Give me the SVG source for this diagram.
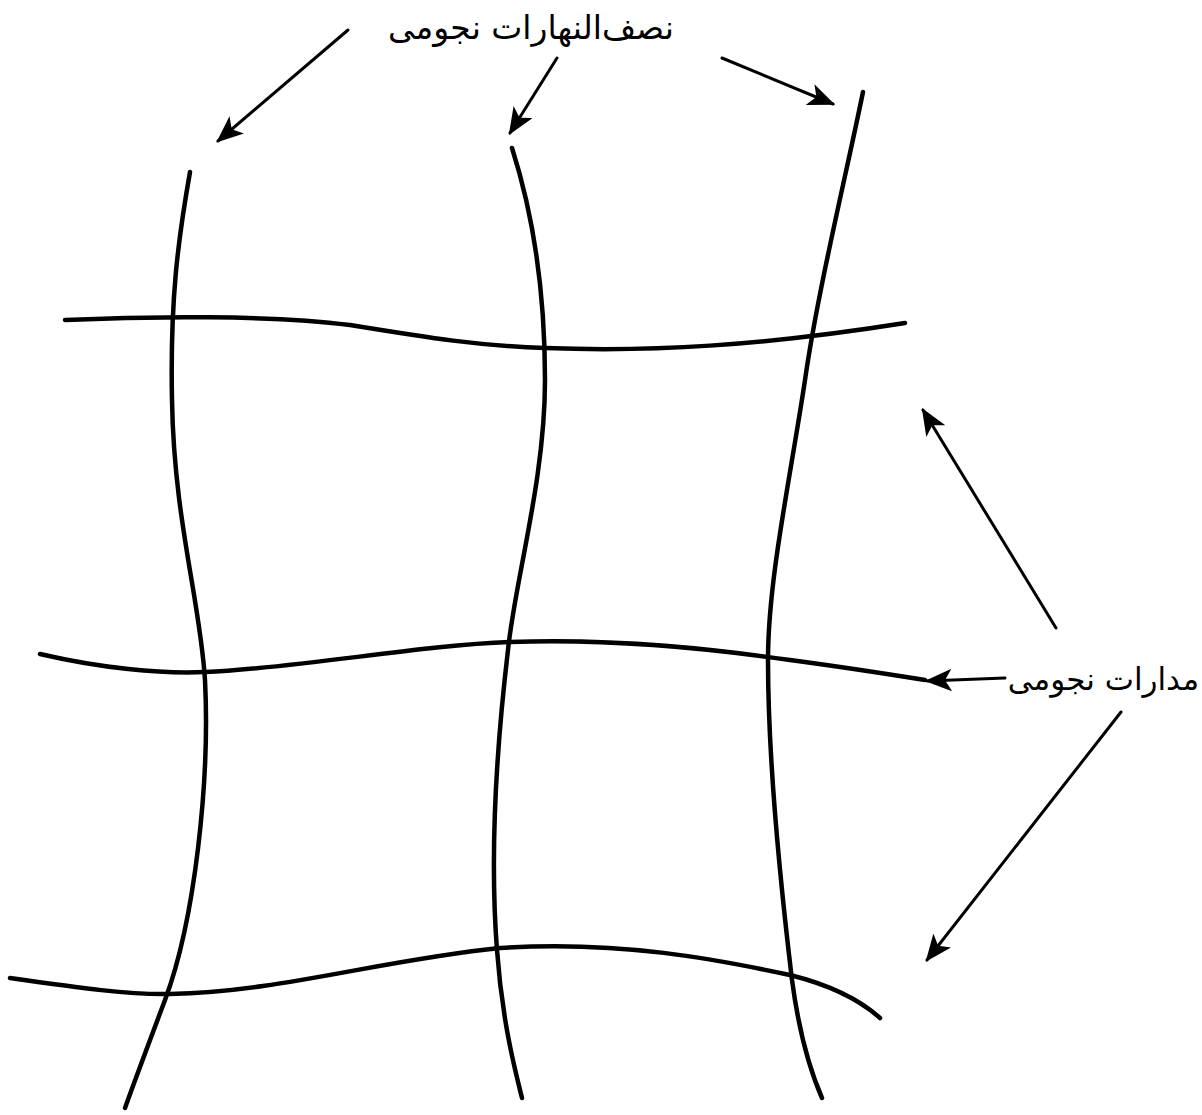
<svg xmlns="http://www.w3.org/2000/svg" width="1202" height="1115" viewBox="0 0 1202 1115">
<style>
.curve{fill:none;stroke:#000;stroke-width:4.5;stroke-linecap:round}
.arr{fill:none;stroke:#000;stroke-width:3;stroke-linecap:round;marker-end:url(#ah)}
.lbl{font-family:"DejaVu Sans",sans-serif;font-size:33px;fill:#000}
</style>
<defs>
<marker id="ah" viewBox="0 0 12 10" refX="11" refY="5" markerWidth="9" markerHeight="7.5" orient="auto" markerUnits="strokeWidth">
<path d="M0,0 L12,5 L0,10 L3,5 Z" fill="#000"/>
</marker>
</defs>
<rect width="1202" height="1115" fill="#fff"/>
<g id="meridian-1"><path class="curve" d="M190,172 C178,240 170,300 172,400 C174,520 200,600 205,680 C210,780 195,920 165,1000 C150,1040 135,1080 125,1108"/></g>
<g id="meridian-2"><path class="curve" d="M512,148 C535,220 545,300 545,380 C545,480 515,580 508,650 C495,760 490,860 497,950 C502,1020 515,1070 522,1098"/></g>
<g id="meridian-3"><path class="curve" d="M863,92 C845,180 818,290 805,380 C790,480 768,580 768,660 C768,760 780,880 792,980 C800,1040 812,1075 822,1098"/></g>
<g id="parallel-1"><path class="curve" d="M65,320 C150,316 270,315 350,325 C430,338 480,346 545,348 C650,352 760,346 905,323"/></g>
<g id="parallel-2"><path class="curve" d="M40,654 C100,668 160,674 205,672 C300,668 420,645 510,642 C620,638 720,650 790,660 C850,668 900,676 925,680"/></g>
<g id="parallel-3"><path class="curve" d="M10,978 C80,988 130,995 170,994 C280,992 380,960 500,948 C620,940 720,960 790,975 C830,985 860,1000 880,1018"/></g>
<g id="label-meridians"><text class="lbl" x="531" y="39" text-anchor="middle">نصف‌النهارات نجومی</text></g>
<g id="label-parallels"><text class="lbl" x="1199" y="690" text-anchor="end" style="font-size:31px">مدارات نجومی</text></g>
<g id="connectors">
<line class="arr" x1="348" y1="30" x2="218" y2="141"/>
<line class="arr" x1="557" y1="58" x2="510" y2="133"/>
<line class="arr" x1="722" y1="58" x2="833" y2="104"/>
<line class="arr" x1="1056" y1="628" x2="923" y2="410"/>
<line class="arr" x1="1005" y1="678" x2="927" y2="681"/>
<line class="arr" x1="1121" y1="712" x2="927" y2="960"/>
</g>
</svg>
